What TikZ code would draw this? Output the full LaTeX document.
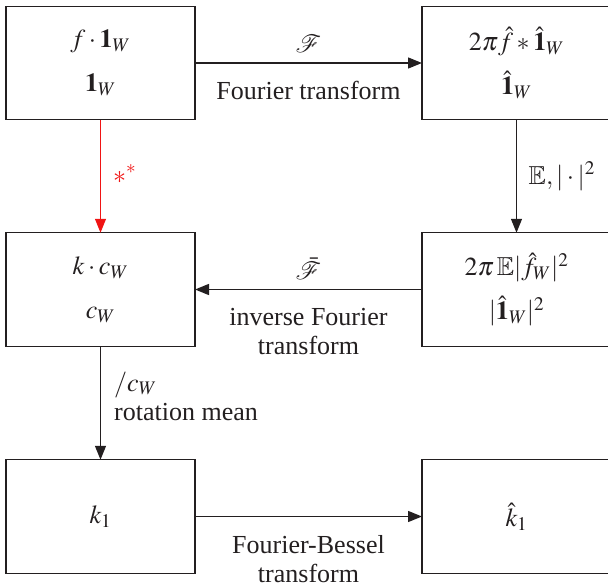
\documentclass[tikz,border=0pt]{standalone}
\usepackage{amsmath,amssymb}
\usepackage{mathptmx}
\usepackage{mathrsfs}
\usepackage[no-math]{fontspec}
\setmainfont{Liberation Serif}
\newfontfamily\timesfont{Liberation Serif}
\usetikzlibrary{arrows.meta}
\definecolor{ink}{RGB}{35,31,32}
\definecolor{redline}{RGB}{240,20,20}
\tikzset{
  box/.style={draw=ink, line width=1.4pt, rectangle, inner sep=0pt, outer sep=0pt,
    minimum width=189pt, minimum height=113.5pt, align=center, text=ink,
    font=\timesfont\fontsize{26}{44}\selectfont},
  arr/.style={draw=ink, line width=1.4pt, -{Triangle[length=14pt,width=11pt]}},
  redarr/.style={draw=redline, line width=1.2pt, -{Triangle[length=14pt,width=11pt]}},
  lbl/.style={inner sep=0pt, text=ink, font=\timesfont\fontsize{26}{29}\selectfont, align=center},
}
\begin{document}
\begin{tikzpicture}[x=1pt,y=-1pt]
\useasboundingbox (0,0) rectangle (608,586);
\node[box] (A) at (100.5,63) {$f\cdot\mathbf{1}_W$\\ $\mathbf{1}_W$};
\node[box] (B) at (516.5,63) {$2\pi\hat{f}*\hat{\mathbf{1}}_W$\\ $\hat{\mathbf{1}}_W$};
\node[box] (C) at (100.5,289.5) {$k\cdot c_W$\\ $c_W$};
\node[box] (D) at (516.5,289.5) {$2\pi\,\mathbb{E}|\hat{f}_W|^2$\\ $|\hat{\mathbf{1}}_W|^2$};
\node[box] (E) at (100.5,516.5) {$k_1$};
\node[box] (F) at (516.5,516.5) {$\hat{k}_1$};

\draw[arr] (A) -- (B)
  node[lbl, midway, yshift=19pt] (l1) {$\mathscr{F}$}
  node[lbl, midway, anchor=north, yshift=-17.5pt] (l2) {Fourier transform};
\draw[arr] (B) -- (D)
  node[lbl, midway, anchor=west, xshift=11.5pt] (l3) {$\mathbb{E},|\cdot|^2$};
\draw[redarr] (A) -- (C)
  node[lbl, midway, anchor=west, xshift=12pt, yshift=2pt, text=redline] (l4) {$*^*$};
\draw[arr] (D) -- (C)
  node[lbl, midway, yshift=21pt] (l5) {$\bar{\mathscr{F}}$}
  node[lbl, midway, anchor=north, yshift=-18.5pt] (l6) {inverse Fourier\\transform};
\draw[arr] (C) -- (E)
  node[lbl, midway, anchor=north west, align=left, xshift=13pt, yshift=32pt] (l7) {$/c_W$\\rotation mean};
\draw[arr] (E) -- (F)
  node[lbl, midway, anchor=north, yshift=-18.5pt] (l8) {Fourier-Bessel\\transform};
\end{tikzpicture}
\end{document}
